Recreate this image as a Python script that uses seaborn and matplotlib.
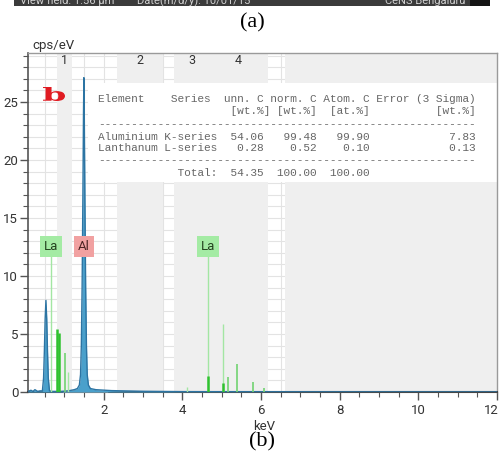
import matplotlib
matplotlib.use("Agg")
import matplotlib.pyplot as plt
import seaborn as sns
import pandas as pd
from matplotlib.patches import Rectangle, PathPatch
from matplotlib.textpath import TextPath
from matplotlib.font_manager import FontProperties
from matplotlib.transforms import Affine2D, blended_transform_factory, offset_copy
from matplotlib.ticker import MultipleLocator, FuncFormatter

# EDS spectrum (keV, cps/eV)
specKeV = [0.07, 0.15, 0.20, 0.25, 0.32, 0.38, 0.44, 0.47, 0.49, 0.51, 0.53, 0.55, 0.57, 0.59, 0.62,
           0.70, 0.90, 1.10, 1.25, 1.33, 1.38, 1.41, 1.43, 1.45, 1.47, 1.485, 1.495, 1.505, 1.52,
           1.54, 1.56, 1.58, 1.61, 1.66, 1.80, 2.20, 3.00, 4.00, 6.00, 8.00, 12.0]
specCps = [0.05, 0.15, 0.05, 0.20, 0.05, 0.10, 0.10, 1.2, 3.5, 6.3, 7.9, 6.3, 3.5, 1.2, 0.10,
           0.05, 0.05, 0.10, 0.20, 0.30, 0.60, 1.5, 4.0, 9.0, 17.0, 24.0, 27.1, 24.0, 17.0,
           9.0, 4.0, 1.5, 0.60, 0.30, 0.20, 0.12, 0.06, 0.03, 0.02, 0.01, 0.0]

# fitted background under the Al peak
bgKeV = [0.95, 1.15, 1.35, 1.55, 1.75, 2.10]
bgCps = [0.05, 0.20, 0.30, 0.30, 0.20, 0.08]

# La line markers: energy, height, kind
lineKeV = [0.65, 0.82, 0.85, 1.02, 1.10, 4.12, 4.65, 4.65, 5.04, 5.04, 5.15, 5.38, 5.79, 6.08]
lineCps = [11.8, 5.4, 5.1, 3.4, 1.7, 0.4, 11.8, 1.4, 5.9, 0.8, 1.3, 2.4, 0.9, 0.35]
lineKind = ['weak', 'strong', 'strong', 'mid', 'weak', 'weak', 'weak', 'strong',
            'weak', 'strong', 'mid', 'mid', 'mid', 'mid']

labelText = ['La', 'Al', 'La']
labelKeV = [0.66, 1.50, 4.66]
labelCps = [12.55, 12.55, 12.55]
labelFill = ['#a4eba4', '#f1a1a1', '#a4eba4']
labelInk = ['#24421f', '#4d2424', '#24421f']

# integration regions
regionStart = [0.80, 2.34, 3.79, 6.61]
regionEnd = [1.20, 3.51, 6.18, 12.0]
regionName = ['1', '2', '3', '4']
regionNameKeV = [1.00, 2.92, 4.25, 5.42]

# quantification table
units = ['[wt.%]', '[wt.%]', '[at.%]', '[wt.%]']
elements = ['Aluminium', 'Lanthanum']
series = ['K-series', 'L-series']
unnC = [54.06, 0.28]
normC = [99.48, 0.52]
atomC = [99.90, 0.10]
errC = [7.83, 0.13]
totals = [54.35, 100.00, 100.00]

W, H = 501, 459
X_MAX = 12.0

sns.set_style('ticks')
plt.rcParams['font.family'] = ['Roboto', 'DejaVu Sans']

fig = plt.figure(figsize=(W / 100, H / 100), dpi=100)
ax = fig.add_axes([28 / W, 1 - 392 / H, 469 / W, 339.5 / H])
ax.set_xlim(0.074, X_MAX)
ax.set_ylim(0, 29.27)

ax.xaxis.set_major_locator(MultipleLocator(2))
ax.xaxis.set_minor_locator(MultipleLocator(0.5))
ax.yaxis.set_major_locator(MultipleLocator(5))
ax.yaxis.set_minor_locator(MultipleLocator(1))
# last label sits flush with the frame, drawn separately below
ax.xaxis.set_major_formatter(FuncFormatter(lambda v, p: '' if v >= X_MAX - 0.01 else f'{v:g}'))
ax.grid(which='both', color='#e3e3e3', lw=0.8, zorder=0)
ax.set_axisbelow(True)

for s, e in zip(regionStart, regionEnd):
    ax.axvspan(s, e, color='#efefef', lw=0, zorder=1)
for k, name in zip(regionNameKeV, regionName):
    ax.text(k, 28.55, name, ha='center', va='center', fontsize=9, color='#333333', zorder=3)

# white box holding the quantification results
ax.add_patch(Rectangle((1.6, 18.1), X_MAX - 1.6, 26.6 - 18.1, fc='white', ec='none', zorder=2))

# spectrum
spec = pd.DataFrame({'keV': specKeV, 'cps': specCps})
ax.fill_between(bgKeV, bgCps, color='#c4b6aa', lw=0, zorder=3)
ax.fill_between(spec['keV'], spec['cps'], color='#4aa0cb', lw=0, zorder=4)
sns.lineplot(data=spec, x='keV', y='cps', ax=ax, color='#2c74a3', lw=1.0, zorder=5)

kindStyle = {'weak': ('#a3e6a3', 1.0), 'mid': ('#72d372', 1.2), 'strong': ('#2fc22f', 1.8)}
for kind in ['weak', 'mid', 'strong']:
    xs = [x for x, kd in zip(lineKeV, lineKind) if kd == kind]
    ys = [y for y, kd in zip(lineCps, lineKind) if kd == kind]
    c, w = kindStyle[kind]
    ax.vlines(xs, 0, ys, color=c, lw=w, zorder=6)

for t, x, y, fc, ink in zip(labelText, labelKeV, labelCps, labelFill, labelInk):
    ax.text(x, y, t, ha='center', va='center', fontsize=9.5, color=ink, zorder=8,
            bbox=dict(boxstyle='square,pad=0.28', fc=fc, ec='none'))

ax.set_xlabel('')
ax.set_ylabel('')
ax.tick_params(which='major', direction='out', length=6, width=1, color='#555555',
               labelsize=9.5, labelcolor='#333333')
ax.tick_params(which='minor', direction='out', length=3.5, width=0.8, color='#555555')
ax.tick_params(axis='y', pad=1)
ax.tick_params(axis='x', pad=3)
lastTr = offset_copy(blended_transform_factory(ax.transData, ax.transAxes), fig=fig, x=1, y=-9, units='points')
ax.text(X_MAX, 0, f'{X_MAX:g}', transform=lastTr, ha='right', va='top', fontsize=9.5,
        color='#333333', clip_on=False)
for side in ['top', 'right']:
    ax.spines[side].set_color('#9a9a9a')
    ax.spines[side].set_linewidth(1.0)
ax.spines['left'].set_color('#555555')
ax.spines['left'].set_linewidth(1.2)
ax.spines['bottom'].set_color('#444444')
ax.spines['bottom'].set_linewidth(1.5)


def fxy(px, py):
    return px / W, 1 - py / H


# table text, fixed width columns
header = f"{'Element':<11}{'Series':<8}{'unn. C':<7}{'norm. C':<8}{'Atom. C':<8}Error (3 Sigma)"
unitLine = f"{'':20}{units[0]:<7}{units[1]:<8}{units[2]:<16}{units[3]}"
dashes = '-' * 57
rows = [f"{el:<10}{se:<8}{a:>7.2f}{b:>8.2f}{c:>8.2f}{d:>16.2f}"
        for el, se, a, b, c, d in zip(elements, series, unnC, normC, atomC, errC)]
totalLine = f"{'':12}{'Total:':<6}{totals[0]:>7.2f}{totals[1]:>8.2f}{totals[2]:>8.2f}"
tableLines = [header, unitLine, dashes, rows[0], rows[1], dashes, totalLine]
tableY = [99, 111, 124, 137, 148, 160, 173]
for line, py in zip(tableLines, tableY):
    fig.text(*fxy(98, py), line, family='Liberation Mono', fontsize=8.0, color='#666666',
             ha='left', va='center')

# red "b" panel letter, stretched to the box it fills
bPath = TextPath((0, 0), 'b', size=1, prop=FontProperties(family='DejaVu Serif', weight='bold'))
ext = bPath.get_extents()
tr = Affine2D().translate(-ext.x0, -ext.y0).scale(22 / ext.width, 14 / ext.height).translate(43, H - 101)
fig.add_artist(PathPatch(bPath, transform=tr, fc='#e01b22', ec='none', zorder=6))

fig.text(*fxy(32, 45), 'cps/eV', ha='left', va='center', fontsize=9.5, color='#333333')
fig.text(*fxy(264, 427), 'keV', ha='center', va='center', fontsize=9.5, color='#333333')

# strip of panel (a) left at the top
fig.add_artist(Rectangle(fxy(14, 5.5), 476 / W, 5.5 / H, transform=fig.transFigure,
                         fc='#3b3b3b', ec='none', zorder=2))
fig.add_artist(Rectangle(fxy(470, 5.5), 20 / W, 5.5 / H, transform=fig.transFigure,
                         fc='#151515', ec='none', zorder=2))
for px, t in [(20, 'View field: 1.56 \u00b5m'), (137, 'Date(m/d/y): 10/01/15'), (385, 'CeNS Bengaluru')]:
    fig.text(*fxy(px, 4), t, ha='left', va='baseline', fontsize=8, color='#d0d0d0', zorder=3)

fig.add_artist(Rectangle(fxy(0, H), 1, 29 / H, transform=fig.transFigure,
                         fc='white', ec='none', zorder=4))
fig.text(*fxy(252, 23), '(a)', family='Liberation Serif', fontsize=16, ha='center', va='center',
         color='black', zorder=5)
fig.text(*fxy(262, 442), '(b)', family='Liberation Serif', fontsize=16, ha='center', va='center',
         color='black', zorder=5)

fig.savefig('out.png', dpi=100)
